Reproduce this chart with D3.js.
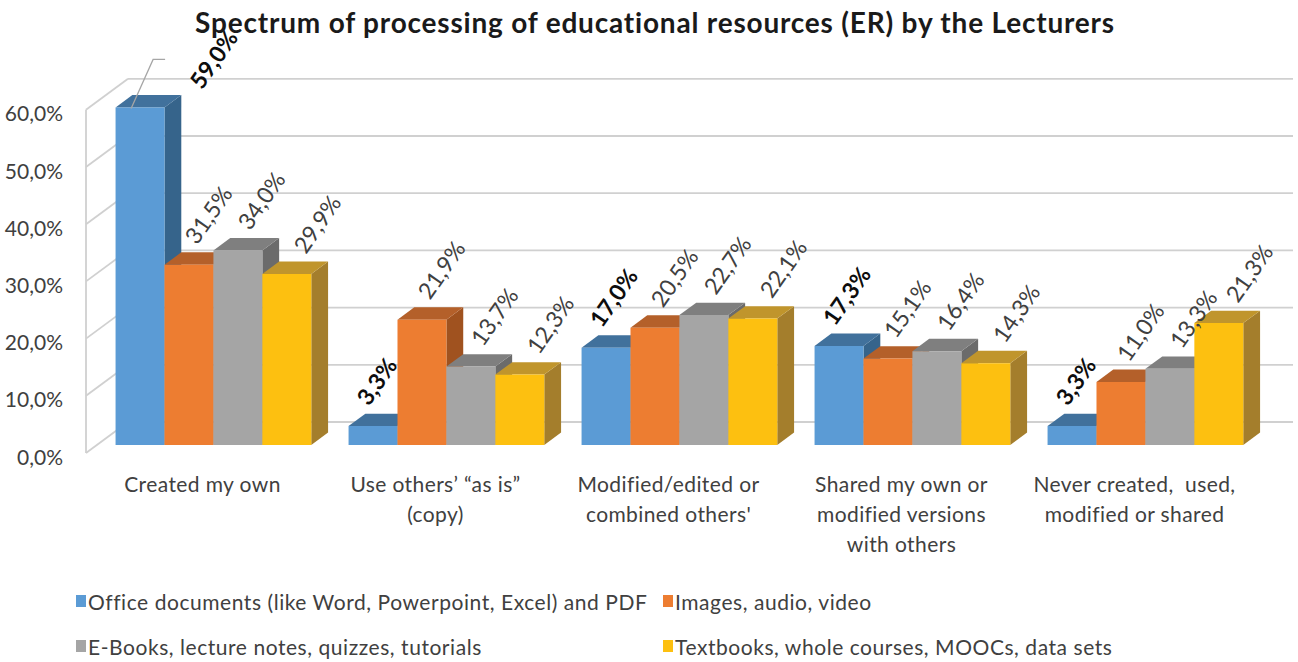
<!DOCTYPE html>
<html>
<head>
<meta charset="utf-8">
<script src="https://cdn.jsdelivr.net/npm/d3@7"></script>
<style>
  body { margin: 0; background: #fff; }
  svg { display: block; font-family: Lato, "Open Sans", sans-serif; }
</style>
</head>
<body>
<div id="chart"></div>
<script>
// ---- data ----
const categories = [
    "Created my own",
    "Use others’ “as is” (copy)",
    "Modified/edited or combined others'",
    "Shared my own or modified versions with others",
    "Never created,  used, modified or shared"
];
const categoryLines = [
    ["Created my own"],
    ["Use others’ “as is”", "(copy)"],
    ["Modified/edited or", "combined others'"],
    ["Shared my own or", "modified versions", "with others"],
    ["Never created,  used,", "modified or shared"]
];
const seriesNames = [
    "Office documents (like Word, Powerpoint, Excel) and PDF",
    "Images, audio, video",
    "E-Books, lecture notes, quizzes, tutorials",
    "Textbooks, whole courses, MOOCs, data sets"
];
const officeDocs = [59.0, 3.3, 17.0, 17.3, 3.3];
const imagesAudioVideo = [31.5, 21.9, 20.5, 15.1, 11.0];
const ebooksNotes = [34.0, 13.7, 22.7, 16.4, 13.3];
const textbooksCourses = [29.9, 12.3, 22.1, 14.3, 21.3];
const yTicks = [0, 10, 20, 30, 40, 50, 60];

const seriesValues = [officeDocs, imagesAudioVideo, ebooksNotes, textbooksCourses];

// ---- styles / layout ----
const width = 1298, height = 662;
const frontColors = ["#5b9bd5", "#ed7d31", "#a5a5a5", "#fdc010"];
const topColors = ["#41719c", "#b4602a", "#7f7f7f", "#c0952c"];
const sideColors = ["#36648b", "#a0521f", "#6b6b6b", "#a47e2c"];
const labelShift = [7, 19, 23, 30];
const depth = { dx: 42, dy: -31 };
const zFront = 0.26, zBack = 0.66;
const plot = { left: 86, right: 1251, bottom: 453, top: 109.8 };

const locale = d3.formatLocale({ decimal: ",", thousands: ".", grouping: [3], currency: ["", "€"] });
const pct = v => locale.format(".1f")(v) + "%";

const svg = d3.select("#chart").append("svg")
    .attr("width", width)
    .attr("height", height);

const y = d3.scaleLinear().domain([0, 60]).range([plot.bottom, plot.top]);
const x0 = d3.scaleBand().domain(categories).range([plot.left, plot.right])
    .paddingInner(0.16).paddingOuter(0.08);
const x1 = d3.scaleBand().domain(seriesNames).range([0, x0.bandwidth()]);

// project a point on the front plane back to depth z (0 = front, 1 = back wall)
const proj = (xf, v, z) => [xf + z * depth.dx, y(v) + z * depth.dy];
const poly = pts => pts.map(p => p.join(",")).join(" ");

// title
svg.append("text")
    .attr("x", 655).attr("y", 22)
    .attr("text-anchor", "middle")
    .attr("dominant-baseline", "central")
    .style("font-size", "28px")
    .style("letter-spacing", "0.8px")
    .style("font-weight", "bold")
    .style("fill", "#1a1a1a")
    .text("Spectrum of processing of educational resources (ER) by the Lecturers");

// walls: gridlines on back wall and side wall
const gridG = svg.append("g").attr("class", "grid")
    .style("stroke", "#d0d0d0").style("stroke-width", 1.8).style("fill", "none");

gridG.selectAll(".backLine").data(yTicks).join("line")
    .attr("class", "backLine")
    .attr("x1", d => proj(plot.left, d, 1)[0]).attr("y1", d => proj(plot.left, d, 1)[1])
    .attr("x2", d => proj(plot.right, d, 1)[0]).attr("y2", d => proj(plot.right, d, 1)[1]);

gridG.selectAll(".sideLine").data(yTicks).join("line")
    .attr("class", "sideLine")
    .attr("x1", d => proj(plot.left, d, 0)[0]).attr("y1", d => proj(plot.left, d, 0)[1])
    .attr("x2", d => proj(plot.left, d, 1)[0]).attr("y2", d => proj(plot.left, d, 1)[1]);

gridG.append("line")
    .attr("x1", plot.left).attr("y1", y(0))
    .attr("x2", plot.left).attr("y2", y(60));

// y axis labels
svg.append("g").selectAll("text").data(yTicks).join("text")
    .attr("x", 63).attr("y", d => y(d) + 3)
    .attr("text-anchor", "end")
    .attr("dominant-baseline", "central")
    .style("font-size", "21px")
    .style("fill", "#404040")
    .text(d => pct(d));

// bars
const bars = [];
categories.forEach((c, i) => {
    seriesNames.forEach((s, j) => {
        bars.push({ cat: c, ci: i, series: s, si: j, value: seriesValues[j][i] });
    });
});

const barG = svg.append("g").selectAll(".bar").data(bars).join("g").attr("class", "bar");

barG.each(function(d) {
    const g = d3.select(this);
    const xl = x0(d.cat) + x1(d.series);
    const xr = xl + x1.bandwidth();
    const v = d.value;
    g.append("polygon")
        .attr("points", poly([proj(xr, 0, zFront), proj(xr, v, zFront), proj(xr, v, zBack), proj(xr, 0, zBack)]))
        .attr("fill", sideColors[d.si]);
    g.append("polygon")
        .attr("points", poly([proj(xl, v, zFront), proj(xr, v, zFront), proj(xr, v, zBack), proj(xl, v, zBack)]))
        .attr("fill", topColors[d.si]);
    g.append("polygon")
        .attr("points", poly([proj(xl, 0, zFront), proj(xr, 0, zFront), proj(xr, v, zFront), proj(xl, v, zFront)]))
        .attr("fill", frontColors[d.si]);
});

// value labels
const maxVal = d3.max(bars, d => d.value);
const labelG = svg.append("g");
bars.forEach(d => {
    const cx = x0(d.cat) + x1(d.series) + x1.bandwidth() / 2;
    const top = proj(cx, d.value, zFront);
    let lx = cx + labelShift[d.si], ly = top[1] - 19;
    if (d.value === maxVal) {
        // label moved aside with a leader line
        lx += 66; ly += 2;
        labelG.append("polyline")
            .attr("points", poly([[cx + 2, top[1] + 1], [cx + 24, ly - 31], [cx + 36, ly - 31]]))
            .attr("fill", "none").attr("stroke", "#a6a6a6").attr("stroke-width", 1.3);
    }
    labelG.append("text")
        .attr("transform", `translate(${lx},${ly}) rotate(-55)`)
        .style("font-size", "23px")
        .style("font-weight", d.si === 0 ? "bold" : "normal")
        .style("fill", d.si === 0 ? "#0d0d0d" : "#404040")
        .text(pct(d.value));
});

// category labels
svg.append("g").selectAll("text").data(categories).join("text")
    .attr("x", d => x0(d) + x0.bandwidth() / 2)
    .attr("y", 485)
    .attr("text-anchor", "middle")
    .style("font-size", "21px")
    .style("letter-spacing", "0.4px")
    .style("white-space", "pre")
    .style("fill", "#404040")
    .each(function(d, i) {
        d3.select(this).selectAll("tspan").data(categoryLines[i]).join("tspan")
            .attr("x", x0(d) + x0.bandwidth() / 2)
            .attr("dy", (l, k) => k === 0 ? "0.35em" : "30px")
            .text(l => l);
    });

// legend
const legendPos = [[76, 601], [663, 601], [76, 646], [663, 646]];
const legend = svg.append("g").selectAll("g").data(seriesNames).join("g")
    .attr("transform", (d, i) => `translate(${legendPos[i][0]},${legendPos[i][1]})`);
legend.append("rect")
    .attr("x", 0).attr("y", -6).attr("width", 10).attr("height", 12)
    .attr("fill", (d, i) => frontColors[i]);
legend.append("text")
    .attr("x", 12).attr("y", 0)
    .attr("dominant-baseline", "central")
    .style("font-size", "21px")
    .style("letter-spacing", "0.55px")
    .style("fill", "#404040")
    .text(d => d);
</script>
</body>
</html>
